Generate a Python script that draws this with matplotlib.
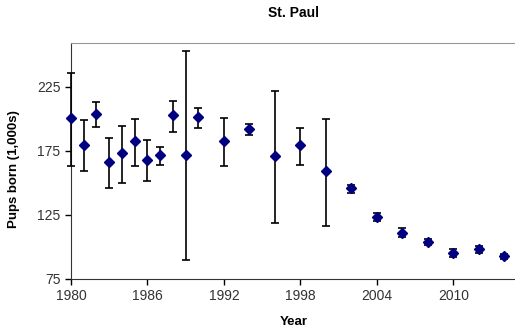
import matplotlib.pyplot as plt

plt.rcParams['font.family'] = ['Liberation Sans', 'DejaVu Sans']

years = [1980, 1981, 1982, 1983, 1984, 1985, 1986, 1987, 1988, 1989, 1990, 1992,
         1994, 1996, 1998, 2000, 2002, 2004, 2006, 2008, 2010, 2012, 2014]
pups = [200.3, 179.4, 203.7, 165.9, 172.9, 182.5, 168.0, 171.9, 202.7, 171.9, 201.4, 182.5,
        192.3, 170.6, 179.4, 159.2, 146.1, 123.6, 111.2, 103.9, 95.4, 98.3, 92.8]
err_hi = [235.7, 199.0, 213.0, 184.6, 194.4, 200.0, 183.5, 177.6, 213.5, 252.8, 208.3, 200.6,
          195.9, 221.5, 193.1, 200.0, 148.6, 126.2, 114.5, 106.3, 98.2, 101.0, 94.8]
err_lo = [162.8, 159.0, 193.8, 146.3, 150.0, 162.8, 151.2, 164.1, 189.7, 89.7, 192.8, 162.8,
          187.2, 118.4, 163.9, 116.3, 142.2, 120.2, 107.8, 101.4, 92.5, 95.5, 90.8]

lower = [p - lo for p, lo in zip(pups, err_lo)]
upper = [hi - p for p, hi in zip(pups, err_hi)]

fig = plt.figure(figsize=(5.15, 3.3), dpi=100)
ax = fig.add_axes([71 / 515, 1 - 279 / 330, 446 / 515, 236 / 330])

ax.errorbar(years, pups, yerr=[lower, upper], fmt='D', color='#000080', markersize=5.5,
            ecolor='black', elinewidth=1.2, capsize=3, capthick=1.2, zorder=3, clip_on=False)

ax.set_xlim(1980, 2015)
ax.set_ylim(75, 259)
ax.set_xticks(range(1980, 2011, 6))
ax.set_yticks([75, 125, 175, 225])
ax.tick_params(direction='out', length=4, labelsize=10, labelcolor='#333333', width=1)

ax.spines['top'].set_color('#999999')
ax.spines['right'].set_visible(False)
ax.spines['left'].set_color('#333333')
ax.spines['bottom'].set_color('#333333')

ax.set_title('St. Paul', fontsize=10, fontweight='bold', pad=19)
ax.set_xlabel('Year', fontsize=9.5, fontweight='bold', labelpad=9)
ax.set_ylabel('Pups born (1,000s)', fontsize=9.5, fontweight='bold')
ax.yaxis.set_label_coords(-0.114, 0.466)

fig.savefig('out.png', dpi=100)
